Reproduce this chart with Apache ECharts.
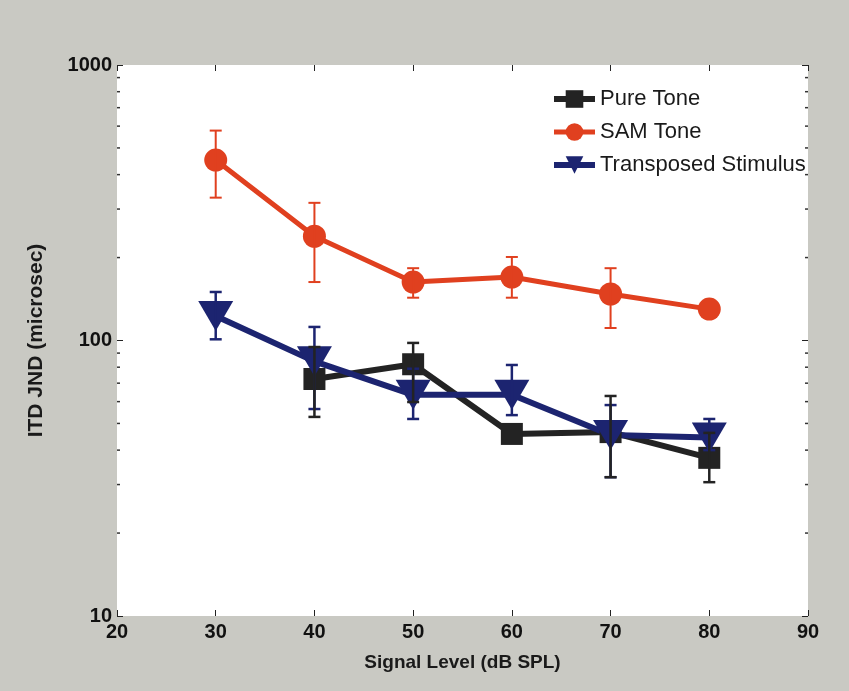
<!DOCTYPE html>
<html>
<head>
<meta charset="utf-8">
<script src="https://cdn.jsdelivr.net/npm/echarts@6/dist/echarts.min.js"></script>
<style>
html,body{margin:0;padding:0;background:#c9c9c3;}
#c{width:849px;height:691px;}
</style>
</head>
<body>
<div id="c"></div>
<script>
// ---- data ----
var levels = [30, 40, 50, 60, 70, 80];
var pureLevels = [40, 50, 60, 70, 80];
var pureTone = [72.5, 82, 45.8, 46.5, 37.5];
var pureLow  = [52.8, 59.8, null, 31.9, 30.6];
var pureHigh = [94.7, 98, null, 62.9, 46.2];
var samTone = [452, 239, 163, 170, 147.5, 130];
var samLow  = [330, 163, 143, 143, 111, null];
var samHigh = [578, 316, 183, 201, 183, null];
var transposed = [122.7, 84, 63.5, 63.5, 45.4, 44.5];
var transLow  = [101, 56.4, 51.9, 53.6, 31.9, 40];
var transHigh = [150, 112, 79, 81.5, 58.3, 51.9];
var xTicks = [20, 30, 40, 50, 60, 70, 80, 90];
var yMajor = [10, 100, 1000];
var yMinor = [20, 30, 40, 50, 60, 70, 80, 90, 200, 300, 400, 500, 600, 700, 800, 900];
var seriesNames = ['Pure Tone', 'SAM Tone', 'Transposed Stimulus'];

var RED = '#e0401f', BLUE = '#1c2470', BLACK = '#232323';
var FONT = "'Liberation Sans Narrow','Liberation Sans',Arial,sans-serif";

function pairs(xs, ys) { return xs.map(function (x, i) { return [x, ys[i]]; }); }
function errPairs(xs, lo, hi) {
  var out = [];
  xs.forEach(function (x, i) { if (lo[i] != null && hi[i] != null) out.push([x, lo[i], hi[i]]); });
  return out;
}
function errSeries(name, data, color, lw) {
  return {
    type: 'custom', name: name + ' err', data: data, z: 3,
    encode: { x: 0, y: [1, 2] },
    renderItem: function (params, api) {
      var x = api.value(0);
      var lo = api.coord([x, api.value(1)]);
      var hi = api.coord([x, api.value(2)]);
      var w = 6;
      var st = { stroke: color, lineWidth: lw };
      return { type: 'group', children: [
        { type: 'line', shape: { x1: lo[0], y1: lo[1], x2: hi[0], y2: hi[1] }, style: st },
        { type: 'line', shape: { x1: lo[0] - w, y1: lo[1], x2: lo[0] + w, y2: lo[1] }, style: st },
        { type: 'line', shape: { x1: hi[0] - w, y1: hi[1], x2: hi[0] + w, y2: hi[1] }, style: st }
      ]};
    }
  };
}

var chart = echarts.init(document.getElementById('c'), null, { renderer: 'canvas' });
var gridL = 117, gridR = 41, gridT = 65, gridB = 75;
chart.setOption({
  backgroundColor: '#c9c9c3',
  animation: false,
  grid: { left: gridL, right: gridR, top: gridT, bottom: gridB, show: true, backgroundColor: '#ffffff', borderWidth: 0 },
  legend: {
    orient: 'vertical', left: 546, top: 83, itemGap: 11, itemWidth: 41, itemHeight: 22,
    data: seriesNames,
    lineStyle: { width: 'inherit' },
    textStyle: { fontSize: 22, color: '#1a1a1a', fontFamily: "'Liberation Sans',Arial,sans-serif" }
  },
  xAxis: [{
    type: 'value', min: 20, max: 90, interval: 10, position: 'bottom',
    name: 'Signal Level (dB SPL)', nameLocation: 'middle', nameGap: 37,
    nameTextStyle: { fontSize: 19, fontWeight: 'bold', color: '#1a1a1a', fontFamily: FONT },
    axisLine: { show: false },
    axisTick: { show: true, inside: true, length: 6, lineStyle: { color: '#222', width: 1 } },
    axisLabel: { fontSize: 20, fontWeight: 'bold', color: '#111', fontFamily: FONT, margin: 6,
      formatter: function (v) { return xTicks.indexOf(v) >= 0 ? String(v) : ''; } },
    splitLine: { show: false }
  }, {
    type: 'value', min: 20, max: 90, interval: 10, position: 'top',
    axisLine: { show: false },
    axisTick: { show: true, inside: true, length: 6, lineStyle: { color: '#222', width: 1 } },
    axisLabel: { show: false }, splitLine: { show: false }
  }],
  yAxis: [{
    type: 'log', logBase: 10, min: 10, max: 1000, position: 'left',
    name: 'ITD JND (microsec)', nameLocation: 'middle', nameGap: 70, nameRotate: 90,
    nameTextStyle: { fontSize: 21, fontWeight: 'bold', color: '#1a1a1a', fontFamily: FONT },
    axisLine: { show: false },
    axisTick: { show: true, inside: true, length: 6, lineStyle: { color: '#222', width: 1 } },
    axisLabel: { fontSize: 20, fontWeight: 'bold', color: '#111', fontFamily: FONT, margin: 5,
      formatter: function (v) { return yMajor.indexOf(Math.round(v)) >= 0 ? String(Math.round(v)) : ''; } },
    splitLine: { show: false }, minorTick: { show: false }
  }, {
    type: 'log', logBase: 10, min: 10, max: 1000, position: 'right',
    axisLine: { show: false },
    axisTick: { show: true, inside: true, length: 6, lineStyle: { color: '#222', width: 1 } },
    axisLabel: { show: false }, splitLine: { show: false }
  }],
  series: [
    { name: 'Pure Tone', type: 'line', data: pairs(pureLevels, pureTone), z: 2,
      symbol: 'rect', symbolSize: 22, lineStyle: { color: BLACK, width: 6 },
      itemStyle: { color: BLACK } },
    { name: 'Transposed Stimulus', type: 'line', data: pairs(levels, transposed), z: 2,
      symbol: 'triangle', symbolRotate: 180, symbolSize: [35, 30], lineStyle: { color: BLUE, width: 6 },
      itemStyle: { color: BLUE } },
    { name: 'SAM Tone', type: 'line', data: pairs(levels, samTone), z: 2,
      symbol: 'circle', symbolSize: 23, lineStyle: { color: RED, width: 5 },
      itemStyle: { color: RED } },
    errSeries('Transposed Stimulus', errPairs(levels, transLow, transHigh), BLUE, 2.5),
    errSeries('Pure Tone', errPairs(pureLevels, pureLow, pureHigh), BLACK, 2.5),
    errSeries('SAM Tone', errPairs(levels, samLow, samHigh), RED, 2)
  ]
});

// minor ticks of the log axis, placed through the axis scale
var gfx = [];
var xl = chart.convertToPixel({ xAxisIndex: 0 }, 20);
var xr = chart.convertToPixel({ xAxisIndex: 0 }, 90);
yMinor.forEach(function (v) {
  var y = chart.convertToPixel({ yAxisIndex: 0 }, v);
  gfx.push({ type: 'line', shape: { x1: xl, y1: y, x2: xl + 3, y2: y }, style: { stroke: '#333', lineWidth: 1.5 }, silent: true });
  gfx.push({ type: 'line', shape: { x1: xr - 3, y1: y, x2: xr, y2: y }, style: { stroke: '#333', lineWidth: 1.5 }, silent: true });
});
chart.setOption({ graphic: gfx });
</script>
</body>
</html>
